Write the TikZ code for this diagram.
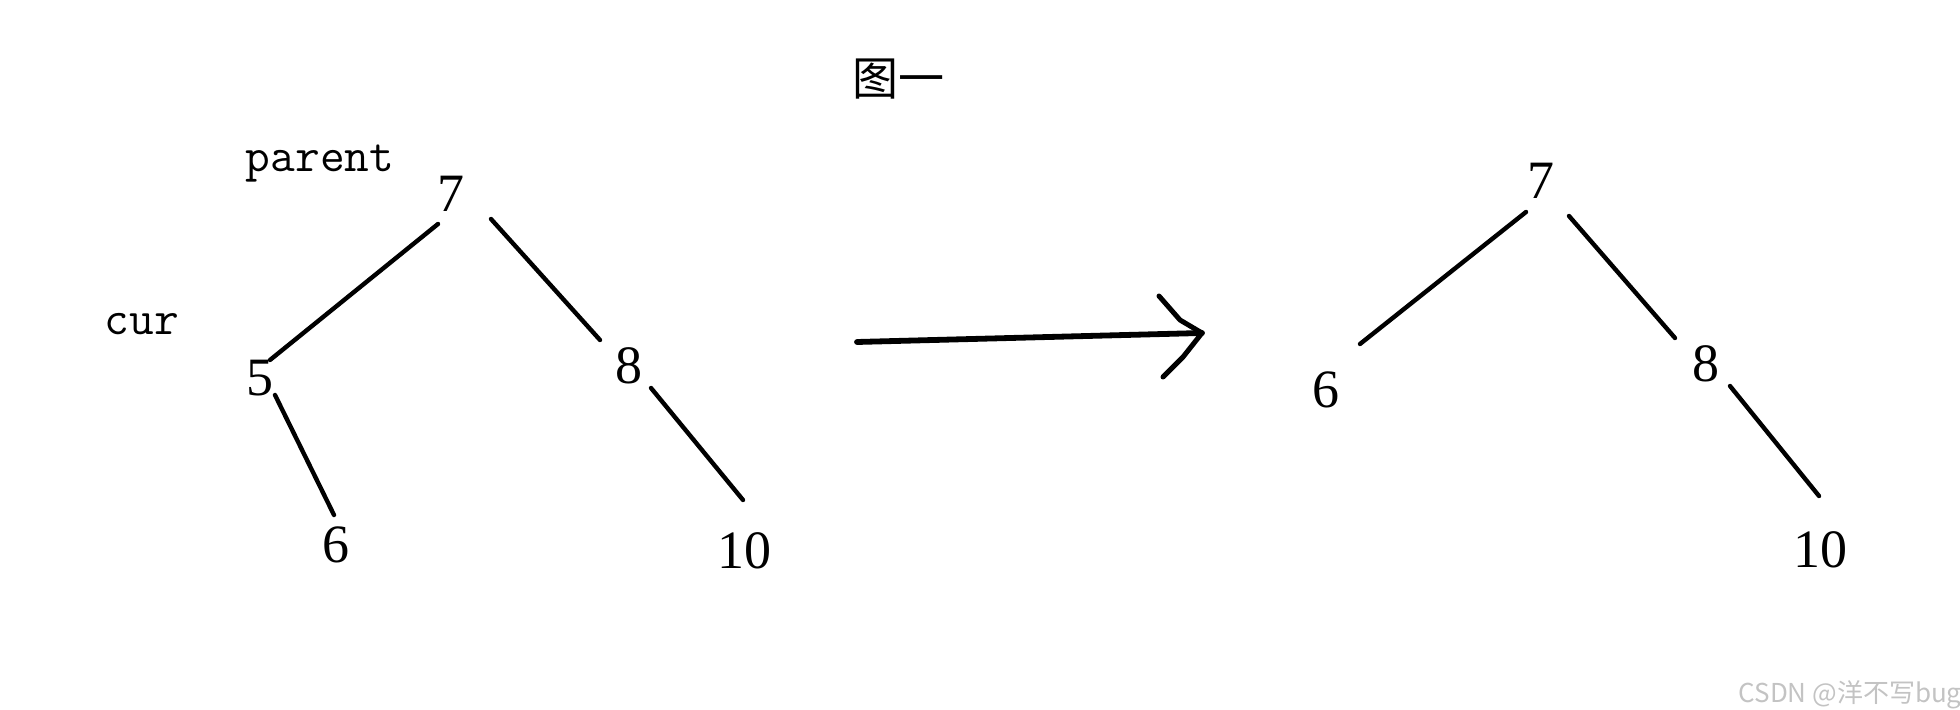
\documentclass[tikz,border=0pt]{standalone}
\usepackage{fontspec}
\setmainfont{Liberation Serif}
\newfontfamily\cjk{Noto Sans CJK SC}
\usepackage{xcolor}
\usetikzlibrary{calc, positioning}

\definecolor{markgray}{RGB}{195,195,195}

\begin{document}
\begin{tikzpicture}[
  x=0.5pt, y=-0.5pt,
  num/.style={
    font=\fontsize{27}{30}\selectfont,
    inner sep=0pt
  },
  tag/.style={
    font=\ttfamily\fontsize{24}{27}\selectfont,
    inner sep=0pt
  },
  edge/.style={
    line width=2.2pt,
    line cap=round
  },
  pen/.style={
    line width=2.5pt,
    line cap=round,
    line join=round
  }
]
\useasboundingbox (0,0) rectangle (1960,710);

% Title
\node [font=\cjk\fontsize{23}{26}\selectfont, inner sep=0pt] (title) at (898,79) {图一};

% Labels
\node [tag] (parent) at (320,164) {parent};
\node [tag] (cur) at (142,324) {cur};

% Left tree
\node [num] (L7) at (451,194) {7};
\node [num] (L5) at (260,378) {5};
\node [num] (L6) at (336,545) {6};
\node [num] (L8) at (629,366) {8};
\node [num] (L10) at (744,551) {10};

\draw [edge] ($(L7)+(-13,30)$) -- ($(L5)+(10,-18)$);
\draw [edge] ($(L7)+(40,25)$) -- ($(L8)+(-29,-26)$);
\draw [edge] ($(L5)+(15,17)$) -- ($(L6)+(-2,-30)$);
\draw [edge] ($(L8)+(22,22)$) -- ($(L10)+(-1,-51)$);

% Arrow between the trees
\coordinate (arrTail) at (857,342);
\coordinate (arrTip) at (1202,333);
\draw [pen, line width=2.9pt] (arrTail) -- (arrTip);
\draw [pen] ($(arrTip)+(-43,-37)$) -- ($(arrTip)+(-22,-13)$) -- (arrTip)
  -- ($(arrTip)+(-19,24)$) -- ($(arrTip)+(-39,44)$);

% Right tree
\node [num] (R7) at (1541,181) {7};
\node [num] (R6) at (1326,390) {6};
\node [num] (R8) at (1706,364) {8};
\node [num] (R10) at (1820,550) {10};

\draw [edge] ($(R7)+(-15,31)$) -- ($(R6)+(34,-46)$);
\draw [edge] ($(R7)+(28,35)$) -- ($(R8)+(-31,-26)$);
\draw [edge] ($(R8)+(24,22)$) -- ($(R10)+(-1,-54)$);

% Watermark
\node [font=\cjk\fontsize{13}{15}\selectfont, text=markgray, anchor=east, inner sep=0pt] (mark) at (1962,695) {CSDN @洋不写bug};

\end{tikzpicture}
\end{document}
